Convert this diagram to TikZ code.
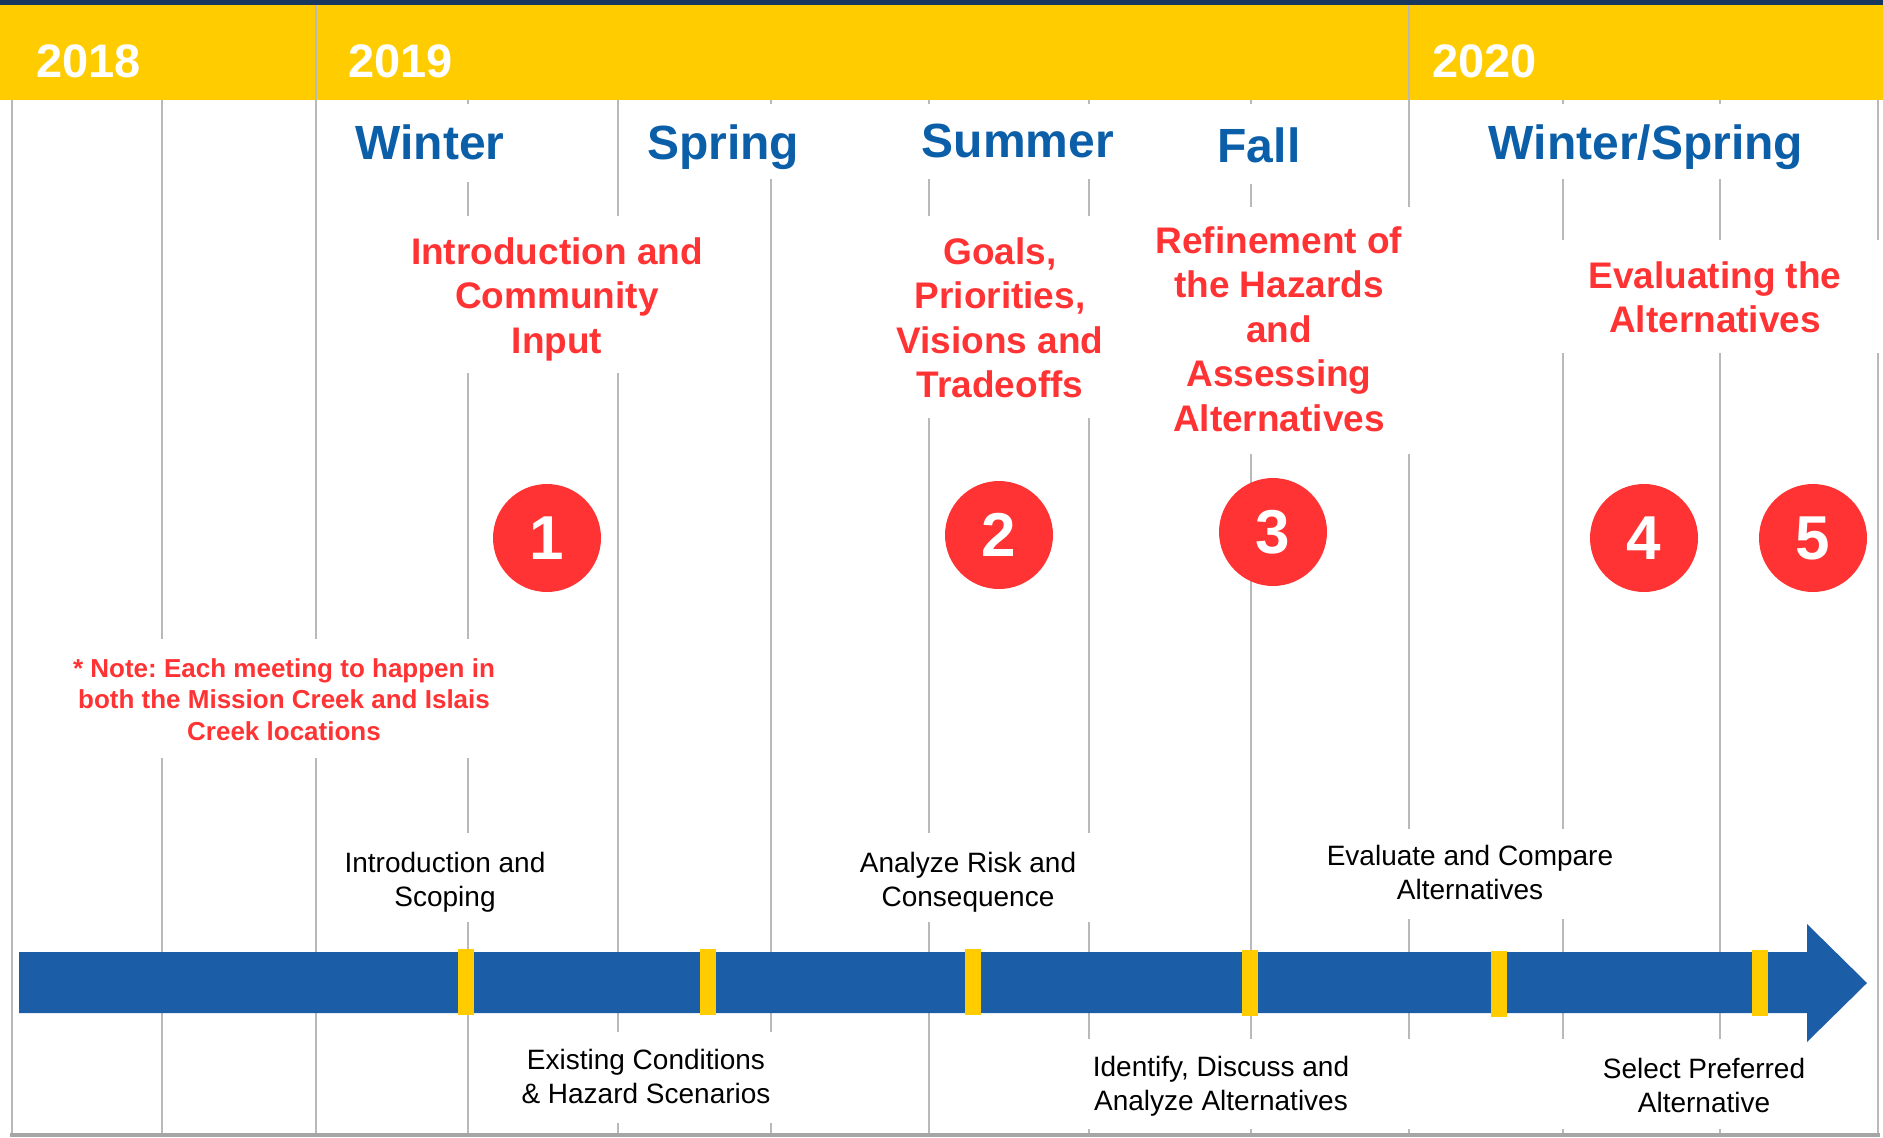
\documentclass[tikz,border=0pt]{standalone}
\usepackage{fontspec}
\setmainfont{Liberation Sans}
\frenchspacing
\definecolor{bandyellow}{RGB}{255,204,0}
\definecolor{topnavy}{RGB}{23,55,94}
\definecolor{seasonblue}{RGB}{11,94,168}
\definecolor{phasered}{RGB}{255,51,51}
\definecolor{arrowblue}{RGB}{28,93,168}
\definecolor{gridgray}{RGB}{185,185,185}
\definecolor{basegray}{RGB}{166,166,166}
\tikzset{
  gridline/.style={draw=gridgray, line width=1.8pt},
  yearlabel/.style={font=\bfseries\fontsize{47}{56}\selectfont, text=white, anchor=base west, inner sep=0pt},
  seasonlabel/.style={font=\bfseries\fontsize{48}{57}\selectfont, text=seasonblue, anchor=base, inner sep=0pt},
  phasetitle/.style={font=\bfseries\fontsize{37}{44.5}\selectfont, text=phasered, align=center, anchor=north, inner sep=0pt},
  notetext/.style={font=\bfseries\fontsize{26}{31.5}\selectfont, text=phasered, align=center, anchor=north, inner sep=0pt},
  badge/.style={circle, fill=phasered, minimum size=108pt, inner sep=0pt, text=white, font=\bfseries\fontsize{62}{74}\selectfont},
  milestone/.style={font=\fontsize{28}{33.5}\selectfont, align=center, anchor=north, inner sep=0pt},
  gate/.style={fill=bandyellow, minimum width=16pt, minimum height=66pt, inner sep=0pt},
}
\begin{document}
\begin{tikzpicture}[x=1pt, y=-1pt]
\path[use as bounding box] (0,0) rectangle (1883,1138);

% header band
\fill[bandyellow] (0,5) rectangle (1883,100);
\fill[topnavy] (0,0) rectangle (1883,5);

% vertical grid, broken where the text blocks sit
\foreach \gx/\ya/\yb in {
  12/100/1136,
  162/100/639, 162/758/1136,
  316/5/639, 316/758/1136,
  468/100/104, 468/182/216, 468/373/639, 468/758/833, 468/922/1136,
  618/100/216, 618/373/1032, 618/1123/1136,
  771/100/104, 771/179/1032, 771/1123/1136,
  929/100/104, 929/179/216, 929/418/833, 929/922/1136,
  1089/100/104, 1089/179/216, 1089/418/833, 1089/922/1039, 1089/1129/1136,
  1251/100/104, 1251/184/207, 1251/454/1039, 1251/1129/1136,
  1409/5/207, 1409/454/829, 1409/919/1039, 1409/1129/1136,
  1563/100/104, 1563/179/240, 1563/353/829, 1563/919/1039, 1563/1129/1136,
  1720/100/104, 1720/179/240, 1720/353/1039, 1720/1129/1136,
  1878/100/240, 1878/353/1136}
  \draw[gridline] (\gx,\ya) -- (\gx,\yb);
\draw[basegray, line width=4pt] (10,1135) -- (1880,1135);

% years
\node[yearlabel] (y2018) at (36,77) {2018};
\node[yearlabel] (y2019) at (348,77) {2019};
\node[yearlabel] (y2020) at (1432,77) {2020};

% seasons
\node[seasonlabel] (winter) at (430,159) {Winter};
\node[seasonlabel] (spring) at (723,159) {Spring};
\node[seasonlabel] (summer) at (1018,157) {Summer};
\node[seasonlabel] (fall) at (1259,162) {Fall};
\node[seasonlabel] (winterspring) at (1646,159) {Winter/Spring};

% meeting themes
\node[phasetitle] (ph1) at (557,237) {Introduction and\\Community\\Input};
\node[phasetitle] (ph2) at (1000,237) {Goals,\\Priorities,\\Visions and\\Tradeoffs};
\node[phasetitle] (ph3) at (1279,226) {Refinement of\\the Hazards\\and\\Assessing\\Alternatives};
\node[phasetitle] (ph45) at (1715,261) {Evaluating the\\Alternatives};

% meeting numbers
\node[badge] (m1) at (547,538) {1};
\node[badge] (m2) at (999,535) {2};
\node[badge] (m3) at (1273,532) {3};
\node[badge] (m4) at (1644,538) {4};
\node[badge] (m5) at (1813,538) {5};

% note
\node[notetext] (note) at (284,658) {* Note: Each meeting to happen in\\both the Mission Creek and Islais\\Creek locations};

% timeline arrow
\fill[arrowblue] (19,952) -- (1807,952) -- (1807,924) -- (1867,983)
  -- (1807,1042) -- (1807,1013) -- (19,1013) -- cycle;

% milestones on the timeline
\node[gate] (g1) at (466,982) {};
\node[gate] (g2) at (708,982) {};
\node[gate] (g3) at (973,982) {};
\node[gate] (g4) at (1250,983) {};
\node[gate] (g5) at (1499,984) {};
\node[gate] (g6) at (1760,983) {};

\node[milestone] (s1) at (445,852) {Introduction and\\Scoping};
\node[milestone] (s2) at (646,1049) {Existing Conditions\\\& Hazard Scenarios};
\node[milestone] (s3) at (968,852) {Analyze Risk and\\Consequence};
\node[milestone] (s4) at (1221,1056) {Identify, Discuss and\\Analyze Alternatives};
\node[milestone] (s5) at (1470,845) {Evaluate and Compare\\Alternatives};
\node[milestone] (s6) at (1704,1058) {Select Preferred\\Alternative};
\end{tikzpicture}
\end{document}
